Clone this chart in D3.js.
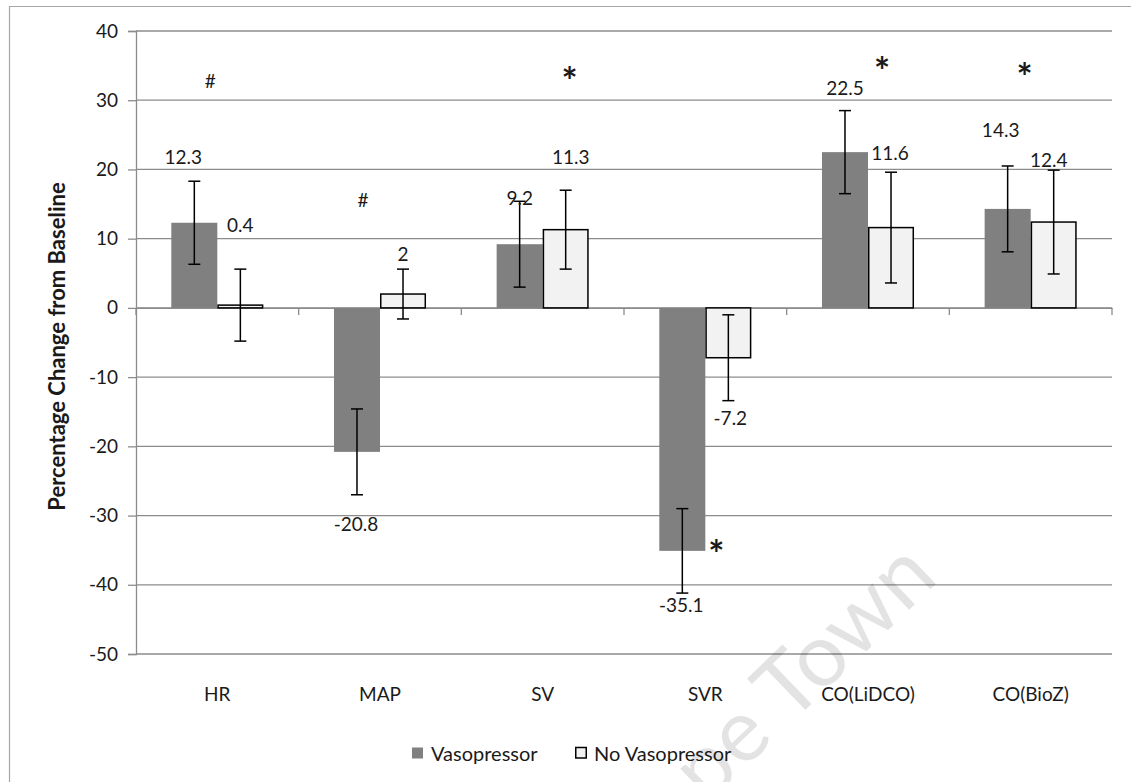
<!DOCTYPE html>
<html>
<head>
<meta charset="utf-8">
<script src="https://cdn.jsdelivr.net/npm/d3@7"></script>
<style>
  html, body { margin: 0; padding: 0; background: #fff; }
  svg { display: block; }
  text { font-family: Lato, "Open Sans", "DejaVu Sans", sans-serif; fill: #1a1a1a; }
</style>
</head>
<body>
<svg id="chart" width="1131" height="782"></svg>
<script>
// ---------------- data ----------------
const categories = ["HR", "MAP", "SV", "SVR", "CO(LiDCO)", "CO(BioZ)"];
const seriesNames = ["Vasopressor", "No Vasopressor"];
const vasopressor = [12.3, -20.8, 9.2, -35.1, 22.5, 14.3];
const noVasopressor = [0.4, 2, 11.3, -7.2, 11.6, 12.4];
const vasopressorErr = [6.0, 6.2, 6.2, 6.1, 6.0, 6.2];
const noVasopressorErr = [5.2, 3.6, 5.7, 6.2, 8.0, 7.5];
const vasopressorLabels = ["12.3", "-20.8", "9.2", "-35.1", "22.5", "14.3"];
const noVasopressorLabels = ["0.4", "2", "11.3", "-7.2", "11.6", "12.4"];
const yTicks = [-50, -40, -30, -20, -10, 0, 10, 20, 30, 40];
// significance marks: [category, symbol, value level of the mark]
const marks = [["HR", "#", 32.8], ["MAP", "#", 15.6], ["SV", "*", 33.9],
               ["SVR", "*", -34.5], ["CO(LiDCO)", "*", 35.4], ["CO(BioZ)", "*", 34.5]];

// ---------------- layout ----------------
const plot = { left: 136, right: 1112, top: 31, bottom: 654 };
// label anchor levels (data units) and horizontal nudges (px) for the data labels
const vasoLabelLevel = [21.8, -31.1, 15.9, -42.9, 31.9, 25.7];
const vasoLabelDx = [-11, -1, 0, -1, 0, -7];
const noLabelLevel = [12.0, 7.9, 21.8, -15.9, 22.5, 21.5];
const noLabelDx = [0, 0, 5, 2, -1, -5];
const markDx = [-7, -17, 27, 11, 14, -6];
const starSize = 38;

const svg = d3.select("#chart");

const y = d3.scaleLinear().domain([-50, 40]).range([plot.bottom, plot.top]);
const x0 = d3.scaleBand().domain(categories).range([plot.left, plot.right]).paddingInner(0).paddingOuter(0);
const x1 = d3.scaleBand().domain(seriesNames).range([0, x0.bandwidth()]).paddingInner(0).paddingOuter(0.767);

const colors = { "Vasopressor": "#808080", "No Vasopressor": "#f2f2f2" };

// outer frame (left + top)
svg.append("path")
  .attr("d", `M9.5,782 L9.5,6.5 L1131,6.5`)
  .attr("fill", "none").attr("stroke", "#a6a6a6").attr("stroke-width", 1.2);

// gridlines
svg.append("g").selectAll("line").data(yTicks).join("line")
  .attr("x1", plot.left).attr("x2", plot.right)
  .attr("y1", d => y(d)).attr("y2", d => y(d))
  .attr("stroke", "#8c8c8c").attr("stroke-width", 1.3);

// y axis
const yAxis = d3.axisLeft(y).tickValues(yTicks).tickSize(8).tickPadding(10).tickFormat(d => String(d));
const gy = svg.append("g").attr("transform", `translate(${plot.left},0)`).call(yAxis);
gy.select(".domain").attr("stroke", "#8c8c8c").attr("stroke-width", 1.3);
gy.selectAll(".tick line").attr("stroke", "#8c8c8c").attr("stroke-width", 1.3);
gy.selectAll(".tick text").style("font-size", "19px").attr("fill", "#1a1a1a")
  .style("font-family", "Lato, 'Open Sans', sans-serif");

// category axis at zero
const xAxis = d3.axisBottom(x0).tickSize(0).tickFormat("");
const gx = svg.append("g").attr("transform", `translate(0,${y(0)})`).call(xAxis);
gx.select(".domain").attr("stroke", "#8c8c8c").attr("stroke-width", 1.3);
// category boundary ticks
const boundaries = categories.map(c => x0(c)).concat([plot.right]);
svg.append("g").selectAll("line").data(boundaries).join("line")
  .attr("x1", d => d).attr("x2", d => d)
  .attr("y1", y(0)).attr("y2", y(0) + 7)
  .attr("stroke", "#8c8c8c").attr("stroke-width", 1.3);

// category labels (low position)
svg.append("g").selectAll("text").data(categories).join("text")
  .attr("x", d => x0(d) + x0.bandwidth() / 2)
  .attr("y", 693)
  .attr("text-anchor", "middle").attr("dominant-baseline", "central")
  .style("font-size", "19px")
  .text(d => d);

// y axis title
svg.append("text")
  .attr("transform", `translate(56,${(plot.top + plot.bottom) / 2 + 4}) rotate(-90)`)
  .attr("text-anchor", "middle").attr("dominant-baseline", "central")
  .style("font-size", "22px").style("font-weight", "bold").attr("fill", "#000")
  .text("Percentage Change from Baseline");

// bars
const rows = categories.map((c, i) => ({
  cat: c,
  items: [
    { s: "Vasopressor", v: vasopressor[i], e: vasopressorErr[i], lab: vasopressorLabels[i], lv: vasoLabelLevel[i], dx: vasoLabelDx[i] },
    { s: "No Vasopressor", v: noVasopressor[i], e: noVasopressorErr[i], lab: noVasopressorLabels[i], lv: noLabelLevel[i], dx: noLabelDx[i] }
  ]
}));

const groups = svg.append("g").selectAll("g").data(rows).join("g")
  .attr("transform", d => `translate(${x0(d.cat)},0)`);

groups.selectAll("rect").data(d => d.items).join("rect")
  .attr("x", d => x1(d.s) + (d.s === "No Vasopressor" ? 0.75 : 0))
  .attr("width", d => x1.bandwidth() - (d.s === "No Vasopressor" ? 1.5 : 0))
  .attr("y", d => Math.min(y(d.v), y(0)))
  .attr("height", d => Math.abs(y(d.v) - y(0)))
  .attr("fill", d => colors[d.s])
  .attr("stroke", d => d.s === "No Vasopressor" ? "#000" : "none")
  .attr("stroke-width", 1.5);

// error bars
const eb = groups.selectAll("g.err").data(d => d.items).join("g").attr("class", "err")
  .attr("transform", d => `translate(${x1(d.s) + x1.bandwidth() / 2},0)`);
eb.append("line").attr("x1", 0).attr("x2", 0)
  .attr("y1", d => y(d.v + d.e)).attr("y2", d => y(d.v - d.e))
  .attr("stroke", "#000").attr("stroke-width", 1.5);
eb.append("line").attr("x1", -6).attr("x2", 6)
  .attr("y1", d => y(d.v + d.e)).attr("y2", d => y(d.v + d.e))
  .attr("stroke", "#000").attr("stroke-width", 1.5);
eb.append("line").attr("x1", -6).attr("x2", 6)
  .attr("y1", d => y(d.v - d.e)).attr("y2", d => y(d.v - d.e))
  .attr("stroke", "#000").attr("stroke-width", 1.5);

// data labels
groups.selectAll("text.lab").data(d => d.items).join("text").attr("class", "lab")
  .attr("x", d => x1(d.s) + x1.bandwidth() / 2 + d.dx)
  .attr("y", d => y(d.lv))
  .attr("text-anchor", "middle").attr("dominant-baseline", "central")
  .style("font-size", "19px")
  .text(d => d.lab);

// significance marks
const markG = svg.append("g");
markG.selectAll("text").data(marks).join("text")
  .attr("x", (d, i) => x0(d[0]) + x0.bandwidth() / 2 + markDx[i])
  .attr("y", d => d[1] === "*" ? y(d[2]) + 0.57 * starSize : y(d[2]))
  .attr("text-anchor", "middle")
  .attr("dominant-baseline", d => d[1] === "*" ? "alphabetic" : "central")
  .style("font-size", d => d[1] === "*" ? starSize + "px" : "19px")
  .style("font-weight", d => d[1] === "*" ? "bold" : "normal")
  .attr("fill", "#000")
  .text(d => d[1]);

// legend
const legend = svg.append("g").attr("transform", "translate(412,753)");
const legendItems = legend.selectAll("g").data(seriesNames).join("g")
  .attr("transform", (d, i) => `translate(${i * 163},0)`);
legendItems.append("rect")
  .attr("x", d => d === "No Vasopressor" ? 0.75 : 0).attr("y", -5.5)
  .attr("width", d => d === "No Vasopressor" ? 10.5 : 11).attr("height", d => d === "No Vasopressor" ? 10.5 : 11)
  .attr("fill", d => colors[d])
  .attr("stroke", d => d === "No Vasopressor" ? "#000" : "none").attr("stroke-width", 1.5);
legendItems.append("text")
  .attr("x", 19).attr("y", 0).attr("dominant-baseline", "central")
  .style("font-size", "20px")
  .text(d => d);

// watermark
svg.append("text")
  .attr("transform", "translate(940,580) rotate(-44)")
  .attr("text-anchor", "end")
  .style("font-size", "88px")
  .attr("fill", "#000").attr("fill-opacity", 0.12)
  .text("University of Cape Town");
</script>
</body>
</html>
